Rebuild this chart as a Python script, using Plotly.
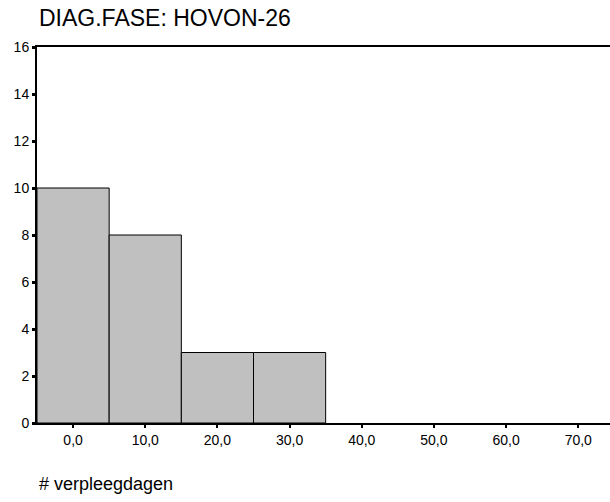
import plotly.graph_objects as go

# histogram bins (midpoints) and counts
bin_mids = [0, 10, 20, 30]
counts = [10, 8, 3, 3]
bin_width = 10

x_ticks = [0, 10, 20, 30, 40, 50, 60, 70]
y_ticks = [0, 2, 4, 6, 8, 10, 12, 14, 16]

title = "DIAG.FASE: HOVON-26"
x_title = "# verpleegdagen"

fig = go.Figure(
    go.Bar(
        x=bin_mids,
        y=counts,
        width=bin_width,
        marker=dict(color="#c0c0c0", line=dict(color="black", width=1)),
    )
)

fig.update_layout(
    width=610,
    height=502,
    margin=dict(l=37, r=0, t=47, b=79),
    plot_bgcolor="white",
    paper_bgcolor="white",
    font=dict(family="Liberation Sans, Arial", color="black", size=14),
    separators=",.",
    showlegend=False,
)

fig.update_xaxes(
    range=[-5, 74.4],
    tickvals=x_ticks,
    tickformat=".1f",
    showline=True,
    linecolor="black",
    linewidth=2,
    mirror=True,
    ticks="outside",
    ticklen=3,
    tickwidth=2,
    tickcolor="black",
    showgrid=False,
    zeroline=False,
    tickfont=dict(size=14),
)
fig.update_yaxes(
    range=[0, 16],
    tickvals=y_ticks,
    showline=True,
    linecolor="black",
    linewidth=2,
    ticks="outside",
    ticklen=3,
    tickwidth=3,
    tickcolor="black",
    showgrid=False,
    zeroline=False,
    tickfont=dict(size=14),
)

fig.add_annotation(
    text=title, xref="paper", yref="paper", x=0, y=1.0, yshift=29,
    xanchor="left", yanchor="middle", showarrow=False,
    font=dict(size=23),
)
fig.add_annotation(
    text=x_title, xref="paper", yref="paper", x=0, y=0, yshift=-61,
    xanchor="left", yanchor="middle", showarrow=False,
    font=dict(size=18),
)

# drop the default body margin so the figure fills the window
fig.write_html(
    "out.html",
    config={"displayModeBar": False},
    post_script="document.body.style.margin='0';",
)
